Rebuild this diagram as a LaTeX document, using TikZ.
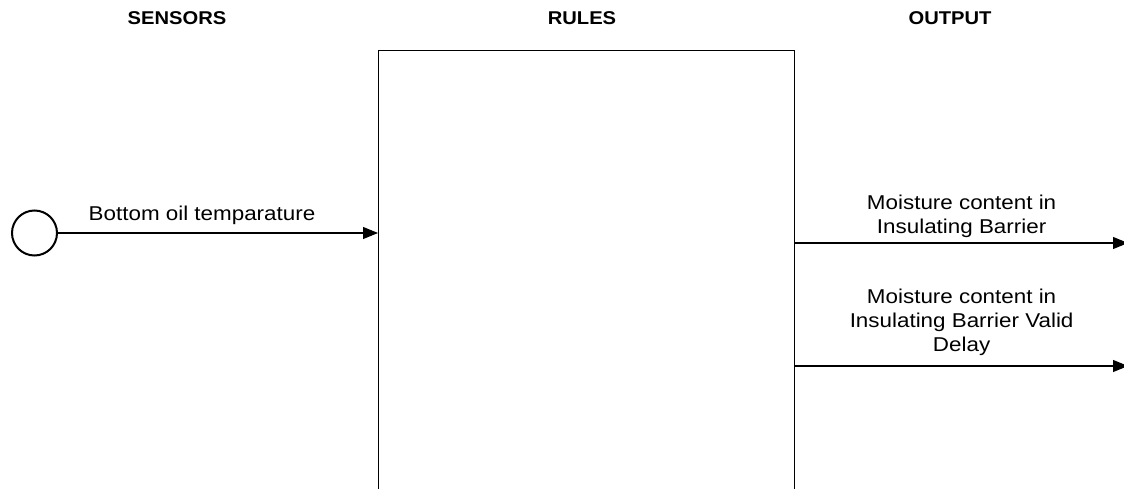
\documentclass[tikz,border=0pt]{standalone}
\usepackage{fontspec}
\setmainfont{Liberation Sans}
\usetikzlibrary{arrows.meta,positioning}

\begin{document}
\begin{tikzpicture}[
  x=1pt,y=-1pt,
  >={Triangle[length=15pt,width=12pt]},
  heading/.style={font=\fontsize{18.5}{22}\selectfont\bfseries,xscale=1.09,
                  inner sep=0pt,anchor=base},
  lbl/.style={font=\fontsize{20}{24}\selectfont,xscale=1.12,align=center,
              inner sep=0pt},
  sensor/.style={circle,draw,line width=2pt,minimum size=45pt,inner sep=0pt},
  rulebox/.style={draw,line width=1.2pt,minimum width=416pt,minimum height=460pt,
                  anchor=north west,inner sep=0pt},
  flow/.style={->,line width=1.1pt},
]
\clip (0,0) rectangle (1124,489);

% ---- column headings ----
\node[heading] (hsens) at (177,25) {SENSORS};
\node[heading] (hrules) at (582,25) {RULES};
\node[heading] (hout) at (950,25) {OUTPUT};

% ---- the rules block (runs off the bottom) ----
\node[rulebox] (rules) at (378,50) {};

% ---- sensor input ----
\node[sensor] (temp) at (34.5,233) {};
\draw[flow] (temp.east) -- node[lbl,above=8pt,pos=0.45]{Bottom oil temparature}
      (rules.west |- temp);

% ---- outputs ----
\coordinate (moist) at (1128,243);
\coordinate (delay) at (1128,366);

\draw[flow] (rules.east |- moist) -- node[lbl,above=5pt]
      {Moisture content in\\Insulating Barrier} (moist);
\draw[flow] (rules.east |- delay) -- node[lbl,above=10pt]
      {Moisture content in\\Insulating Barrier Valid\\Delay} (delay);

\end{tikzpicture}
\end{document}
